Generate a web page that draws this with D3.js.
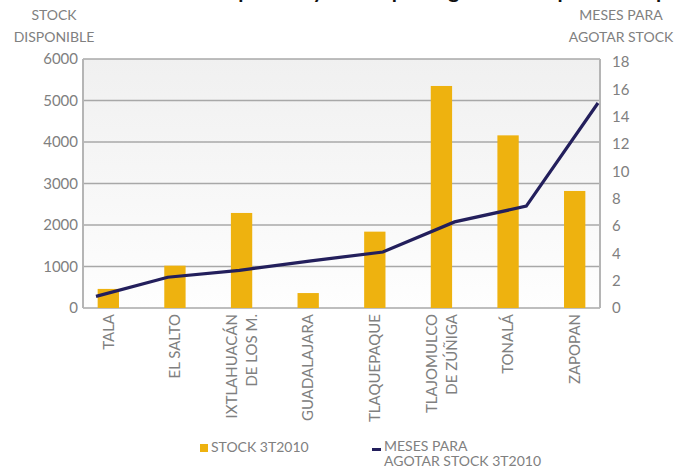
<!DOCTYPE html>
<html>
<head>
<meta charset="utf-8">
<script src="https://cdn.jsdelivr.net/npm/d3@7"></script>
<style>
body { margin: 0; background: #fff; }
text { font-family: Lato, "Open Sans", sans-serif; fill: #808080; }
</style>
</head>
<body>
<div id="chart"></div>
<script>
// data
var municipios = [["TALA"], ["EL SALTO"], ["IXTLAHUACÁN", "DE LOS M."], ["GUADALAJARA"],
	["TLAQUEPAQUE"], ["TLAJOMULCO", "DE ZÚÑIGA"], ["TONALÁ"], ["ZAPOPAN"]];
var stock = [460, 1020, 2290, 360, 1840, 5350, 4160, 2820];
var meses = [0.85, 2.25, 2.75, 3.45, 4.1, 6.3, 7.45, 15.0];
var stockTicks = [0, 1000, 2000, 3000, 4000, 5000, 6000];
var mesesTicks = [0, 2, 4, 6, 8, 10, 12, 14, 16, 18];

var width = 690, height = 468;
var L = 83, R = 600, T = 59, B = 308;
var cats = municipios.map(function(d) { return d.join(" "); });

var svg = d3.select("#chart").append("svg")
	.attr("width", width)
	.attr("height", height);

var grad = svg.append("defs").append("linearGradient")
	.attr("id", "bg").attr("x1", 0).attr("y1", 0).attr("x2", 0).attr("y2", 1);
grad.append("stop").attr("offset", "0%").attr("stop-color", "#f0f0f0");
grad.append("stop").attr("offset", "100%").attr("stop-color", "#fefefe");

var x = d3.scaleBand().domain(cats).range([L, R]).paddingInner(0.68).paddingOuter(0.22);
var xLine = d3.scalePoint().domain(cats).range([L + 13, R - 2]);
var yL = d3.scaleLinear().domain([0, 6000]).range([B, T]);
var yR = d3.scaleLinear().domain([0, 18]).range([B, T + 3]);

// title, mostly off the top edge
svg.append("text")
	.attr("x", 420).attr("y", -2)
	.attr("text-anchor", "middle")
	.style("font-size", "21px").style("font-weight", "bold").style("fill", "#111")
	.text("Stock disponible y meses para agotar stock por municipio");

svg.append("rect")
	.attr("x", L).attr("y", T).attr("width", R - L).attr("height", B - T)
	.attr("fill", "url(#bg)");

svg.selectAll(".grid")
	.data(stockTicks)
	.enter().append("line")
		.attr("x1", L).attr("x2", R)
		.attr("y1", function(d) { return yL(d); })
		.attr("y2", function(d) { return yL(d); })
		.attr("stroke", "#a8a8a8")
		.attr("stroke-width", 1.5);

svg.append("line").attr("x1", L).attr("x2", L).attr("y1", T).attr("y2", B)
	.attr("stroke", "#b5b5b5").attr("stroke-width", 2);
svg.append("line").attr("x1", R).attr("x2", R).attr("y1", T).attr("y2", B)
	.attr("stroke", "#b5b5b5").attr("stroke-width", 2);

// bars
svg.selectAll(".bar")
	.data(stock)
	.enter().append("rect")
		.attr("x", function(d, i) { return x(cats[i]); })
		.attr("y", function(d) { return yL(d); })
		.attr("width", x.bandwidth())
		.attr("height", function(d) { return B - yL(d); })
		.attr("fill", "#eeb20f");

// line
var line = d3.line()
	.x(function(d, i) { return xLine(cats[i]); })
	.y(function(d) { return yR(d); });
svg.append("path")
	.datum(meses)
	.attr("d", line)
	.attr("fill", "none")
	.attr("stroke", "#231f5c")
	.attr("stroke-width", 3.2);

// axes
var axL = svg.append("g").attr("transform", "translate(" + L + ",0)")
	.call(d3.axisLeft(yL).tickValues(stockTicks).tickFormat(d3.format("d")).tickSize(0).tickPadding(5));
var axR = svg.append("g").attr("transform", "translate(" + R + ",0)")
	.call(d3.axisRight(yR).tickValues(mesesTicks).tickFormat(d3.format("d")).tickSize(0).tickPadding(12));
[axL, axR].forEach(function(a) {
	a.select(".domain").remove();
	a.selectAll("text").style("font-size", "15px").style("fill", "#808080").style("font-family", "Lato, sans-serif");
});

// category labels
var lab = svg.selectAll(".cat")
	.data(municipios)
	.enter().append("text")
		.attr("transform", function(d, i) {
			return "translate(" + (x(cats[i]) + x.bandwidth() / 2) + "," + (B + 6) + ") rotate(-90)";
		})
		.attr("text-anchor", "end")
		.style("font-size", "15px");
lab.selectAll("tspan")
	.data(function(d) { return d; })
	.enter().append("tspan")
		.attr("x", 0)
		.attr("y", function(d, i, n) { return (i - (n.length - 1) / 2) * 20; })
		.attr("dy", "0.35em")
		.text(function(d) { return d; });

// axis titles
function title(lines, cx) {
	svg.append("text")
		.attr("text-anchor", "middle")
		.style("font-size", "14px")
		.selectAll("tspan").data(lines).enter().append("tspan")
			.attr("x", cx)
			.attr("y", function(d, i) { return 20 + i * 22; })
			.text(function(d) { return d; });
}
title(["STOCK", "DISPONIBLE"], 54);
title(["MESES PARA", "AGOTAR STOCK"], 621);

// legend
svg.append("rect").attr("x", 200).attr("y", 444).attr("width", 8).attr("height", 8).attr("fill", "#eeb20f");
svg.append("text").attr("x", 211).attr("y", 452).style("font-size", "14px").text("STOCK 3T2010");
svg.append("line").attr("x1", 372).attr("x2", 381).attr("y1", 449.5).attr("y2", 449.5)
	.attr("stroke", "#231f5c").attr("stroke-width", 3);
["MESES PARA", "AGOTAR STOCK 3T2010"].forEach(function(t, i) {
	svg.append("text").style("font-size", "14px")
		.attr("x", 384)
		.attr("y", 451 + i * 15)
		.text(t);
});
</script>
</body>
</html>
